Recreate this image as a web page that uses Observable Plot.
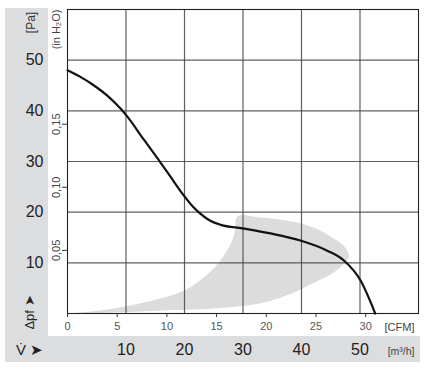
<!DOCTYPE html>
<html>
<head>
<meta charset="utf-8">
<script src="https://cdn.jsdelivr.net/npm/d3@7"></script>
<script src="https://cdn.jsdelivr.net/npm/@observablehq/plot@0.6"></script>
<style>
  html, body { margin: 0; padding: 0; background: white; }
  #wrap { position: relative; width: 428px; height: 371px; font-family: "Liberation Sans", Arial, sans-serif; }
  .band { position: absolute; background: #dcdddf; }
  #chart { position: absolute; left: 0; top: 0; }
</style>
</head>
<body>
<div id="wrap">
  <div class="band" style="left:5px;top:8px;width:43px;height:354px"></div>
  <div class="band" style="left:5px;top:336px;width:415px;height:26px"></div>
  <div id="chart"></div>
</div>
<script>
// Fan curve: airflow [m³/h] vs static pressure [Pa]
const curveFlow = [0, 2.2, 4.4, 6.8, 9.1, 10.2, 13.0, 15.9, 17.6, 19.8, 21.5, 22.7, 24.4, 26.2, 29.9, 34.7, 39.8, 44.4, 47.2, 50.1, 52.6];
const curvePa   = [48.0, 46.7, 45.1, 43.0, 40.4, 38.9, 34.4, 29.8, 27.0, 23.4, 21.0, 19.7, 18.3, 17.5, 16.8, 15.8, 14.4, 12.4, 10.5, 6.5, 0];

// Grey operating region outline (upper edge out, lower edge back)
const zoneFlow = [0, 5.6, 10.3, 14.0, 17.5, 19.5, 21.0, 22.5, 24.0, 25.3, 26.5, 27.8, 28.6, 29.1, 32.5, 35.9, 39.8, 43.0, 45.5, 47.0, 47.9, 48.1, 47.5, 45.5, 41.5, 38.6, 33.0, 25.0, 15.9, 10.3, 5.0, 0];
const zonePa   = [0, 0.6, 1.5, 2.4, 3.5, 4.3, 5.2, 6.4, 7.8, 9.3, 11.0, 13.5, 16.0, 19.2, 19.0, 18.6, 17.8, 16.5, 14.8, 13.6, 12.2, 11.0, 10.1, 8.1, 5.7, 4.1, 2.0, 1.0, 0.6, 0.3, 0.1, 0];

const flowTicks = [10, 20, 30, 40, 50];      // m³/h
const paTicks = [10, 20, 30, 40, 50];        // Pa
const cfmTicks = [0, 5, 10, 15, 20, 25, 30]; // CFM
const inH2OTicks = [0.05, 0.10, 0.15];       // in H2O

const CFM_TO_M3H = 1.699;
const INH2O_TO_PA = 249.09;

const curve = curveFlow.map((x, i) => ({x, y: curvePa[i]}));
const zone = zoneFlow.map((x, i) => ({x, y: zonePa[i]}));

const font = "Liberation Sans, Arial, sans-serif";
const mid = {textAnchor: "middle", lineAnchor: "middle"};

const plot = Plot.plot({
  width: 428,
  height: 371,
  marginLeft: 67,
  marginRight: 10,
  marginTop: 9,
  marginBottom: 58,
  style: {background: "transparent", fontFamily: font, overflow: "visible"},
  x: {domain: [0, 60]},
  y: {domain: [0, 60]},
  marks: [
    Plot.line(zone, {x: "x", y: "y", fill: "#dcdcdc", stroke: "none", curve: "catmull-rom"}),
    Plot.gridX({ticks: flowTicks, stroke: "#444", strokeOpacity: 0.85, strokeWidth: 1.2}),
    Plot.gridY({ticks: paTicks, stroke: "#444", strokeOpacity: 0.85, strokeWidth: 1.2}),
    Plot.frame({stroke: "#222", strokeWidth: 1.1}),
    Plot.line(curve, {x: "x", y: "y", stroke: "#111", strokeWidth: 2.2, curve: "monotone-x"}),
    // Pa axis
    Plot.axisY({ticks: paTicks, tickSize: 0, tickPadding: 24, fontSize: 16, fill: "#222", label: null}),
    // in H2O axis
    Plot.axisY({ticks: inH2OTicks.map(v => v * INH2O_TO_PA), tickSize: 5, tickFormat: () => "", label: null, stroke: "#333"}),
    Plot.text(inH2OTicks, {y: d => d * INH2O_TO_PA, text: d => d.toFixed(2).replace(".", ","), frameAnchor: "left", dx: -11, rotate: -90, fontSize: 11, fill: "#444", ...mid}),
    // CFM axis
    Plot.axisX({ticks: cfmTicks.map(c => c * CFM_TO_M3H), tickFormat: (d, i) => String(cfmTicks[i]), tickSize: 4, tickPadding: 5, fontSize: 11, fill: "#555", stroke: "#333", label: null}),
    // m³/h axis
    Plot.axisX({ticks: flowTicks, tickSize: 0, tickPadding: 30, fontSize: 16, fill: "#222", label: null}),
    // unit labels
    Plot.text(["[CFM]"], {frameAnchor: "bottom-right", textAnchor: "end", lineAnchor: "middle", dx: -4, dy: 14, fontSize: 11, fill: "#444"}),
    Plot.text(["[m³/h]"], {frameAnchor: "bottom-right", textAnchor: "end", lineAnchor: "middle", dx: -4, dy: 38, fontSize: 10.5, fill: "#444"}),
    Plot.text(["[Pa]"], {frameAnchor: "top-left", rotate: -90, dx: -36, dy: 13, fontSize: 12, fill: "#333", ...mid}),
    Plot.text(["(in H₂O)"], {frameAnchor: "top-left", rotate: -90, dx: -11, dy: 20, fontSize: 11, fill: "#444", ...mid}),
    Plot.text(["Δpf ➤"], {frameAnchor: "bottom-left", rotate: -90, dx: -38, dy: -1, fontSize: 13, fill: "#222", ...mid}),
    Plot.text(["V̇ ➤"], {frameAnchor: "bottom-left", dx: -38, dy: 37, fontSize: 15, fill: "#222", ...mid})
  ]
});
document.getElementById("chart").appendChild(plot);
</script>
</body>
</html>
